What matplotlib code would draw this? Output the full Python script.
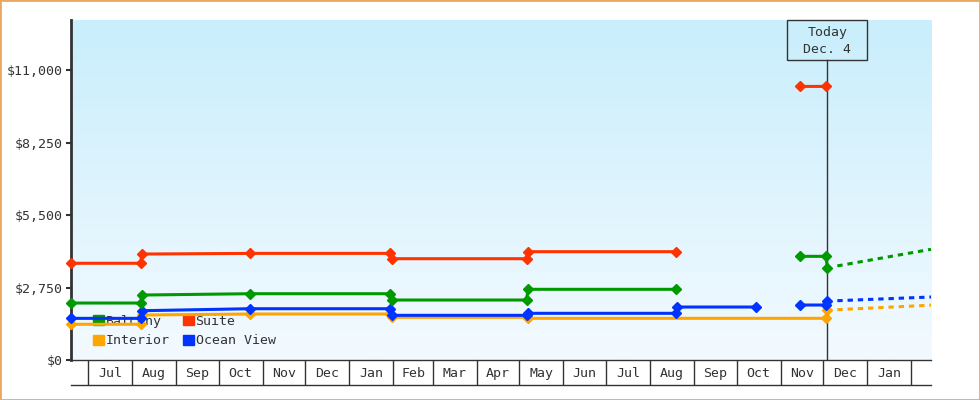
import numpy as np
import pandas as pd
import matplotlib
matplotlib.use('Agg')
import matplotlib.pyplot as plt
import matplotlib.dates as mdates
from matplotlib.patches import Rectangle, Patch
from matplotlib.colors import LinearSegmentedColormap
from matplotlib.transforms import IdentityTransform

plt.rcParams['font.family'] = ['DejaVu Sans Mono']

# ---------------- data ----------------
series_names = ['Balcony', 'Suite', 'Interior', 'Ocean View']
series_colors = {'Balcony': '#009900', 'Suite': '#ff3300',
                 'Interior': '#ffa500', 'Ocean View': '#0033ff'}

suite_dates = ['2022-06-19', '2022-08-07', '2022-08-08', '2022-10-23', '2023-01-30',
               '2023-01-31', '2023-05-06', '2023-05-07', '2023-08-19', '2023-10-01',
               '2023-11-15', '2023-12-03']
suite_values = [3670, 3670, 4020, 4045, 4045,
                3843, 3843, 4110, 4110, np.nan,
                10380, 10380]

balcony_dates = ['2022-06-19', '2022-08-07', '2022-08-08', '2022-10-23', '2023-01-30',
                 '2023-01-31', '2023-05-06', '2023-05-07', '2023-08-19', '2023-10-01',
                 '2023-11-15', '2023-12-03', '2023-12-04']
balcony_values = [2162, 2162, 2465, 2515, 2515,
                  2276, 2276, 2682, 2682, np.nan,
                  3933, 3933, 3478]

ocean_dates = ['2022-06-19', '2022-08-07', '2022-08-08', '2022-10-23', '2023-01-30',
               '2023-01-31', '2023-05-06', '2023-05-07', '2023-08-19', '2023-08-20',
               '2023-10-15', '2023-11-01', '2023-11-15', '2023-12-03', '2023-12-04']
ocean_values = [1580, 1580, 1870, 1946, 1946,
                1695, 1695, 1771, 1771, 2010,
                2010, np.nan, 2086, 2086, 2250]

interior_dates = ['2022-06-19', '2022-08-07', '2022-08-08', '2022-10-23', '2023-01-30',
                  '2023-01-31', '2023-05-06', '2023-05-07', '2023-12-03', '2023-12-04']
interior_values = [1355, 1355, 1707, 1745, 1745,
                   1620, 1620, 1582, 1582, 1885]

forecast_dates = ['2023-12-11', '2024-02-15']
balcony_forecast = [3570, 4200]
ocean_forecast = [2250, 2390]
interior_forecast = [1910, 2080]

today = '2023-12-04'
today_label = 'Today\nDec. 4'
x_start, x_end = '2022-06-19', '2024-02-15'
y_max = 12900
y_ticks = [0, 2750, 5500, 8250, 11000]
month_labels = ['Jul', 'Aug', 'Sep', 'Oct', 'Nov', 'Dec', 'Jan', 'Feb', 'Mar', 'Apr',
                'May', 'Jun', 'Jul', 'Aug', 'Sep', 'Oct', 'Nov', 'Dec', 'Jan']

# ---------------- figure ----------------
W, H = 980, 400
fig = plt.figure(figsize=(W / 100, H / 100), dpi=100)
ax_l, ax_r, ax_t, ax_b = 71, 931, 20, 360
ax = fig.add_axes([ax_l / W, (H - ax_b) / H, (ax_r - ax_l) / W, (ax_b - ax_t) / H])

dark = '#333333'

# background gradient
cmap = LinearSegmentedColormap.from_list('bg', ['#c9eefc', '#f3faff'])
ax.imshow(np.linspace(0, 1, 256).reshape(-1, 1), cmap=cmap, aspect='auto',
          extent=[0, 1, 0, 1], transform=ax.transAxes, zorder=0)

def d(lst):
    return mdates.date2num(pd.to_datetime(lst))

lw = 2.2
ms = 5.2
draw_order = [('Interior', interior_dates, interior_values),
              ('Ocean View', ocean_dates, ocean_values),
              ('Balcony', balcony_dates, balcony_values),
              ('Suite', suite_dates, suite_values)]
for name, ds, vs in draw_order:
    ax.plot(d(ds), vs, color=series_colors[name], lw=lw, marker='D', ms=ms,
            mec=series_colors[name], clip_on=False, zorder=4)

for name, vs in [('Interior', interior_forecast), ('Ocean View', ocean_forecast),
                 ('Balcony', balcony_forecast)]:
    ax.plot(d(forecast_dates), vs, color=series_colors[name], lw=lw,
            dashes=(1.75, 1.6), zorder=4, clip_on=False)

ax.set_xlim(d([x_start])[0], d([x_end])[0])
ax.set_ylim(0, y_max)

# today line and box
t = d([today])[0]
box_h = 40
ax.axvline(t, ymin=0, ymax=1 - box_h / (ax_b - ax_t), color=dark, lw=1, zorder=3)
px = ax.transData.transform((t, y_max))
fig.add_artist(Rectangle((px[0] - 40, px[1] - box_h), 80, box_h, transform=IdentityTransform(),
                         fill=False, ec=dark, lw=1))
ax.text(t, 1 - (box_h / 2 + 1) / (ax_b - ax_t), today_label, transform=ax.get_xaxis_transform(),
        ha='center', va='center', fontsize=9.5, color=dark, linespacing=1.45, zorder=5)

# spines
for s in ['top', 'right']:
    ax.spines[s].set_visible(False)
ax.spines['left'].set_color(dark)
ax.spines['left'].set_linewidth(2)
ax.spines['bottom'].set_color(dark)
ax.spines['bottom'].set_linewidth(1)

# y axis
ax.set_yticks(y_ticks)
ax.yaxis.set_major_formatter(plt.FuncFormatter(lambda v, p: f'${v:,.0f}'))
ax.tick_params(axis='y', direction='out', length=3.6, width=1.5, color=dark,
               labelcolor=dark, labelsize=9.5, pad=2.5)

# x axis: month cells
month_starts = pd.date_range('2022-07-01', '2024-02-01', freq='MS')
ms_num = d(month_starts)
mids = (ms_num[:-1] + ms_num[1:]) / 2
ax.set_xticks(ms_num)
ax.set_xticklabels([])
ax.set_xticks(mids, minor=True)
ax.set_xticklabels(month_labels, minor=True)
cell_h = 25
ax.tick_params(axis='x', which='major', direction='out', length=cell_h * 0.72, width=1, color=dark)
ax.tick_params(axis='x', which='minor', length=0, pad=5, labelsize=9.5, labelcolor=dark)
ax.plot([0, 1], [-cell_h / (ax_b - ax_t)] * 2, transform=ax.transAxes, color=dark, lw=1,
        clip_on=False)

# legend
handles = [Patch(color=series_colors[n], label=n) for n in ['Balcony', 'Interior', 'Suite', 'Ocean View']]
leg = ax.legend(handles=handles, ncol=2, loc='upper left', bbox_to_anchor=(0.026, 0.133),
                frameon=False, fontsize=9.5, handlelength=0.8, handleheight=0.8,
                handletextpad=0.15, columnspacing=1.0, labelspacing=0.5, borderpad=0,
                borderaxespad=0, labelcolor=dark)
leg.set_zorder(2)

# outer border
fig.add_artist(Rectangle((0, 0), 1, 1, transform=fig.transFigure, fill=False,
                         ec='#e8a862', lw=2))

fig.savefig('out.png', dpi=100)
